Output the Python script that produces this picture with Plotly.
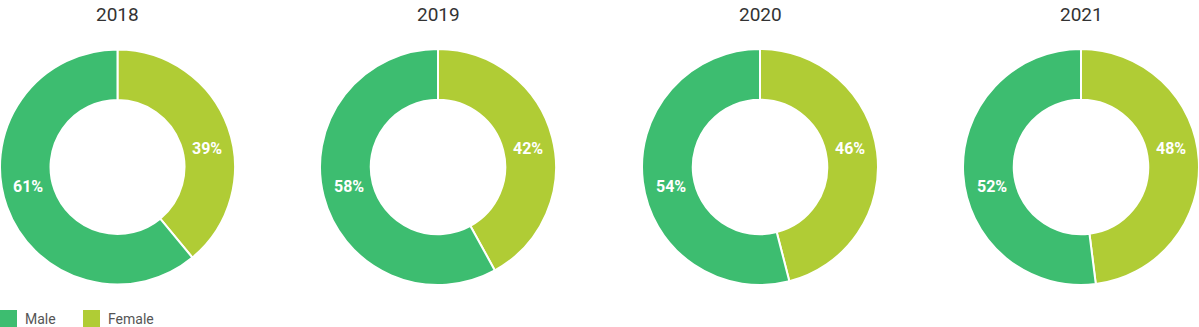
import plotly.graph_objects as go

years = ["2018", "2019", "2020", "2021"]
male = [61, 58, 54, 52]
female = [39, 42, 46, 48]
series_names = ["Male", "Female"]
male_color = "#3dbd70"
female_color = "#b0cc35"

W, H = 1199, 327
centers_x = [117, 438, 760, 1081]
cy = 167
r_outer = 118

fig = go.Figure()
annotations = []
shapes = []

for i, yr in enumerate(years):
    cx = centers_x[i]
    x0, x1 = (cx - r_outer) / W, (cx + r_outer) / W
    y0, y1 = 1 - (cy + r_outer) / H, 1 - (cy - r_outer) / H
    fig.add_trace(go.Pie(
        values=[female[i], male[i]],
        labels=["Female", "Male"],
        marker=dict(colors=[female_color, male_color], line=dict(color="white", width=2)),
        hole=0.57,
        sort=False,
        direction="clockwise",
        rotation=0,
        textinfo="none",
        hoverinfo="label+percent",
        showlegend=False,
        domain=dict(x=[max(x0, 0), min(x1, 1)], y=[y0, y1]),
    ))
    annotations.append(dict(
        x=cx / W, y=1 - 15 / H, xref="paper", yref="paper",
        text=yr, showarrow=False, xanchor="center", yanchor="middle",
        font=dict(family="Roboto", size=19, color="#333333"),
    ))
    annotations.append(dict(
        x=(cx + 90) / W, y=1 - 148 / H, xref="paper", yref="paper",
        text=f"<b>{female[i]}%</b>", showarrow=False, xanchor="center", yanchor="middle",
        font=dict(family="Roboto", size=16, color="white"),
    ))
    annotations.append(dict(
        x=(cx - 89) / W, y=1 - 186 / H, xref="paper", yref="paper",
        text=f"<b>{male[i]}%</b>", showarrow=False, xanchor="center", yanchor="middle",
        font=dict(family="Roboto", size=16, color="white"),
    ))

# legend drawn as squares with labels
legend_items = [(series_names[0], male_color, 0, 23), (series_names[1], female_color, 83, 106)]
for name, col, sx, tx in legend_items:
    shapes.append(dict(
        type="rect", xref="paper", yref="paper",
        x0=sx / W, x1=(sx + 17) / W, y0=0, y1=1 - 310 / H,
        fillcolor=col, line=dict(width=0),
    ))
    annotations.append(dict(
        x=tx / W, y=1 - 319 / H, xref="paper", yref="paper",
        text=name, showarrow=False, xanchor="left", yanchor="middle",
        font=dict(family="Roboto", size=14, color="#555555"),
    ))

fig.update_layout(
    width=W, height=H,
    margin=dict(l=0, r=0, t=0, b=0),
    paper_bgcolor="white", plot_bgcolor="white",
    annotations=annotations, shapes=shapes,
)

fig.write_html("out.html")
